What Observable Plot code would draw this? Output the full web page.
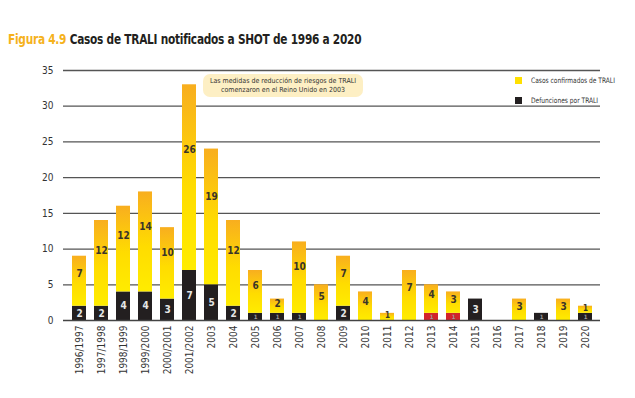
<!DOCTYPE html>
<html><head><meta charset="utf-8">
<script src="https://cdn.jsdelivr.net/npm/d3@7"></script>
<script src="https://cdn.jsdelivr.net/npm/@observablehq/plot@0.6"></script>
<style>
body{margin:0;background:#fff;font-family:"DejaVu Sans Condensed",sans-serif;}
#wrap{position:relative;width:635px;height:398px;overflow:hidden;}
#title{position:absolute;left:8px;top:31px;font-size:14px;font-weight:bold;color:#231f20;white-space:nowrap;letter-spacing:-0.3px;transform:scaleX(0.84);transform-origin:0 0;}
#title span{color:#f5b21c;}
#note{position:absolute;left:203px;top:74px;width:160px;height:23px;background:#fdefc4;border-radius:7px;font-size:7px;line-height:9px;text-align:center;color:#333;padding-top:3px;box-sizing:border-box;}
.leg{position:absolute;left:515px;font-size:7.5px;color:#333;white-space:nowrap;}
.leg i{display:inline-block;width:7px;height:7px;vertical-align:-1px;margin-right:9px;}
.leg b{font-weight:normal;display:inline-block;transform:scaleX(0.88);transform-origin:0 0;}
</style></head><body>
<div id="wrap">
<div id="chart"></div>
<div id="title"><span>Figura 4.9</span> Casos de TRALI notificados a SHOT de 1996 a 2020</div>
<div id="note">Las medidas de reducción de riesgos de TRALI<br>comenzaron en el Reino Unido en 2003</div>
<div class="leg" style="top:76px"><i style="background:#ffe000"></i><b>Casos confirmados de TRALI</b></div>
<div class="leg" style="top:96px"><i style="background:#231f20"></i><b>Defunciones por TRALI</b></div>
</div>
<script>
const years = ["1996/1997","1997/1998","1998/1999","1999/2000","2000/2001","2001/2002","2003","2004","2005","2006","2007","2008","2009","2010","2011","2012","2013","2014","2015","2016","2017","2018","2019","2020"];
const deaths = [2,2,4,4,3,7,5,2,1,1,1,0,2,0,0,0,1,1,3,0,0,1,0,1];
const cases  = [7,12,12,14,10,26,19,12,6,2,10,5,7,4,1,7,4,3,0,0,3,0,3,1];
const redYears = ["2013","2014"];
const yTicks = [0,5,10,15,20,25,30,35];

const rows = years.map((y,i)=>({year:y, deaths:deaths[i], cases:cases[i]}));
const font = '"DejaVu Sans Condensed",sans-serif';

const chart = Plot.plot({
  width:635, height:398,
  marginTop:70, marginBottom:78, marginLeft:63, marginRight:35,
  style:{fontFamily:font, fontSize:"10px", color:"#333", background:"transparent"},
  x:{domain:years, padding:0.375, label:null, tickRotate:-90, tickSize:0, tickPadding:5},
  y:{domain:[0,35], ticks:yTicks, label:null, tickSize:0, tickPadding:10},
  color:{type:"identity"},
  marks:[
    Plot.ruleY(yTicks.slice(1), {stroke:"#555", strokeWidth:1.3}),
    Plot.barY(rows, {x:"year", y1:0, y2:"deaths", fill:d=>redYears.includes(d.year)?"#d2232a":"#231f20"}),
    Plot.barY(rows.filter(d=>d.cases>0), {x:"year", y1:"deaths", y2:d=>d.deaths+d.cases, fill:()=>"url(#gold)"}),
    Plot.ruleY([0], {stroke:"#444", strokeWidth:1.5}),
    Plot.text(rows.filter(d=>d.cases>0), {x:"year", y:d=>d.deaths+d.cases*0.65, text:d=>String(d.cases), fill:"#3a3528", fontSize:d=>d.cases<2?8:10, fontWeight:"bold"}),
    Plot.text(rows.filter(d=>d.deaths>0), {x:"year", y:d=>d.deaths/2, text:d=>String(d.deaths), fill:d=>d.deaths>1?"#e6e6e6":"#999", fontSize:d=>d.deaths>1?10:6, fontWeight:"bold"})
  ]
});
const defs = document.createElementNS("http://www.w3.org/2000/svg","defs");
defs.innerHTML = '<linearGradient id="gold" x1="0" y1="0" x2="0" y2="1"><stop offset="0" stop-color="#f8ae1f"/><stop offset="0.55" stop-color="#ffdc00"/><stop offset="1" stop-color="#ffec00"/></linearGradient>';
chart.insertBefore(defs, chart.firstChild);
document.getElementById("chart").appendChild(chart);
</script>
</body></html>
